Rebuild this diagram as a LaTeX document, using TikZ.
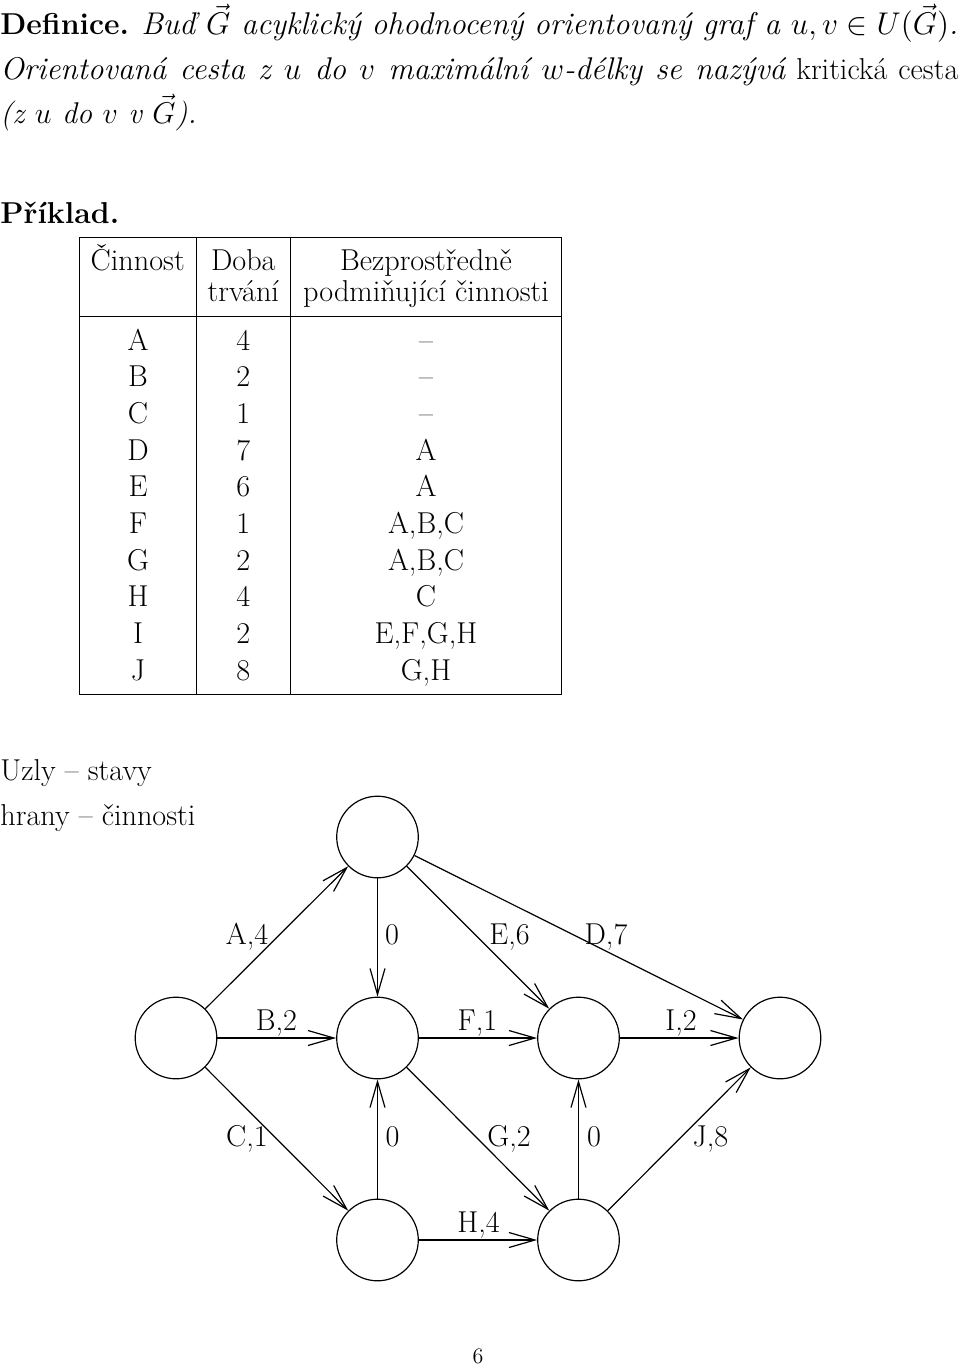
\documentclass[tikz,border=0pt]{standalone}
\usetikzlibrary{arrows.meta}
\DeclareFontShape{OML}{cmm}{m}{it}{<->cmmi12}{}
\DeclareFontShape{OMS}{cmsy}{m}{n}{<->cmsy10}{}
\DeclareFontShape{OT1}{cmr}{m}{n}{<->cmr12}{}
\newcommand{\Fm}{\fontsize{15.1}{22.5}\selectfont}
\newcommand{\Fi}{\fontsize{15.7}{22.5}\selectfont\itshape}
\newcommand{\Fj}{\fontsize{15}{22.5}\selectfont\itshape}
\newcommand{\Fs}{\fontsize{11}{13}\selectfont}
\tikzset{
  txt/.style={inner sep=0pt, font=\Fm},
  st/.style={circle, draw, minimum size=40.8pt, inner sep=0pt, line width=0.6pt},
  ar/.style={-{Straight Barb[length=13pt,width=7.5pt]}, line width=0.6pt},
  lab/.style={inner sep=0pt, font=\Fm, anchor=base},
  tline/.style={line width=0.5pt}
}
\begin{document}
\begin{tikzpicture}[x=0.5pt,y=-0.5pt]
\useasboundingbox (0,0) rectangle (960,1367);
% paragraph
\node[txt, anchor=base west] (l1) at (0,34) {\hbox to 479pt{\textbf{Definice.} {\Fi Buď $\vec G$ acyklický ohodnocený orientovaný graf a $u,v\in U(\vec G)$.}}};
\node[txt, anchor=base west] (l2) at (0,79) {\hbox to 479pt{{\Fi Orientovaná cesta z $u$ do $v$ maximální $w$-délky se nazývá} kritická cesta}};
\node[txt, anchor=base west] (l3) at (0,123.5) {{\Fj (z $u$ do $v$ v $\vec G$).}};
\node[txt, anchor=base west] (pr) at (0,223) {\textbf{Příklad.}};
% table
\draw[tline] (79.5,237.5) rectangle (561,694);
\draw[tline] (79.5,316.7) -- (561,316.7);
\draw[tline] (196,237.5) -- (196,694);
\draw[tline] (290.7,237.5) -- (290.7,694);
\node[txt, anchor=base] (h1) at (137.7,270.7) {Činnost};
\node[txt, anchor=base] (h2a) at (243.3,270.7) {Doba};
\node[txt, anchor=base] (h2b) at (243.3,301.7) {trvání};
\node[txt, anchor=base] (h3a) at (426,270.7) {Bezprostředně};
\node[txt, anchor=base] (h3b) at (426,301.7) {podmiňující činnosti};
\foreach \a/\b/\c [count=\i from 0] in {A/4/--, B/2/--, C/1/--, D/7/A, E/6/A, F/1/{A,B,C}, G/2/{A,B,C}, H/4/C, I/2/{E,F,G,H}, J/8/{G,H}}{
  \node[txt, anchor=base] (ra\i) at (138,350+36.67*\i) {\a};
  \node[txt, anchor=base] (rb\i) at (243.3,350+36.67*\i) {\b};
  \node[txt, anchor=base] (rc\i) at (426,350+36.67*\i) {\c};
}
% legend
\node[txt, anchor=base west] (u1) at (0,780) {Uzly -- stavy};
\node[txt, anchor=base west] (u2) at (0,825) {hrany -- činnosti};
% graph
\node[st] (n1) at (176,1038) {};
\node[st] (n2) at (377.5,837) {};
\node[st] (n3) at (377.5,1038) {};
\node[st] (n4) at (578.5,1038) {};
\node[st] (n5) at (780,1038) {};
\node[st] (n6) at (377.5,1240) {};
\node[st] (n7) at (578.5,1240) {};
\draw[ar] (n1) -- (n2);
\draw[ar] (n2) -- (n3);
\draw[ar] (n2) -- (n4);
\draw[ar] (n2) -- (n5);
\draw[ar] (n1) -- (n3);
\draw[ar] (n3) -- (n4);
\draw[ar] (n4) -- (n5);
\draw[ar] (n1) -- (n6);
\draw[ar] (n6) -- (n3);
\draw[ar] (n3) -- (n7);
\draw[ar] (n7) -- (n4);
\draw[ar] (n7) -- (n5);
\draw[ar] (n6) -- (n7);
\node[lab] (eA) at (247,944) {A,4};
\node[lab] (e0a) at (392,944) {0};
\node[lab] (eE) at (509.5,944) {E,6};
\node[lab] (eD) at (606,944) {D,7};
\node[lab] (eB) at (276.5,1030) {B,2};
\node[lab] (eF) at (477.5,1030) {F,1};
\node[lab] (eI) at (681,1030) {I,2};
\node[lab] (eC) at (247,1146) {C,1};
\node[lab] (e0b) at (392.5,1146) {0};
\node[lab] (eG) at (509,1146) {G,2};
\node[lab] (e0c) at (594,1146) {0};
\node[lab] (eJ) at (710.5,1146) {J,8};
\node[lab] (eH) at (478.5,1232) {H,4};
% page number
\node[inner sep=0pt, font=\Fs, anchor=base] (pg) at (478,1363) {6};
\end{tikzpicture}
\end{document}
